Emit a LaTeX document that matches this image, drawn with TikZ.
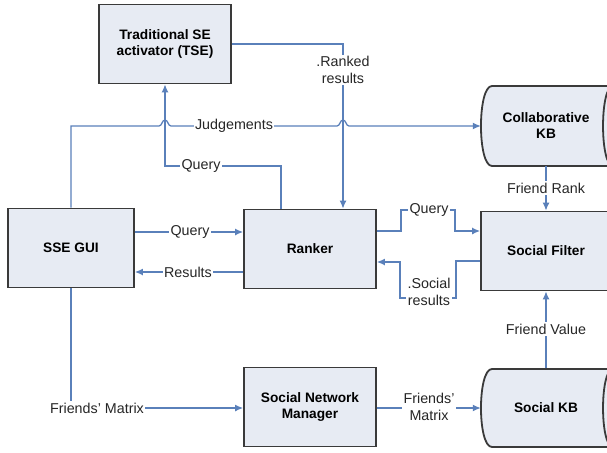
\documentclass[tikz,border=0pt]{standalone}
\usepackage{fontspec}
\setmainfont{Liberation Sans}
\usetikzlibrary{arrows.meta}
\definecolor{conncol}{HTML}{5A80BA}
\definecolor{boxfill}{HTML}{E7EBF3}
\definecolor{boxline}{HTML}{3A3A3A}
\tikzset{
  x=1pt, y=-1pt,
  box/.style={draw=boxline, line width=1.8pt, fill=boxfill, minimum width=132pt, minimum height=79pt, inner sep=0pt, align=center, font=\fontsize{13.7}{16}\selectfont\bfseries},
  dbtext/.style={minimum width=130pt, minimum height=79pt, inner sep=0pt, align=center, font=\fontsize{13.7}{16}\selectfont\bfseries},
  dbshape/.style={draw=boxline, line width=1.8pt, fill=boxfill},
  conn/.style={draw=conncol, line width=1.3pt},
  arr/.style={conn, -{Latex[length=8pt,width=7pt]}},
  lbl/.style={fill=white, inner sep=1.5pt, align=center, font=\fontsize{14.3}{16}\selectfont, text=black!85}
}
\begin{document}
\begin{tikzpicture}
\useasboundingbox (0,0) rectangle (607,452);
\clip (0,0) rectangle (607,452);
\fill[white] (0,0) rectangle (607,452);

% boxes
\node[box] (tse) at (165,44) {Traditional SE\\activator (TSE)};
\node[box, minimum width=126pt] (sse) at (71,248) {SSE GUI};
\node[box] (ranker) at (310,249) {Ranker};
\node[box, minimum width=130pt] (sf) at (546,251) {Social Filter};
\node[box] (snm) at (310,407) {Social Network\\Manager};

% database shapes
\draw[dbshape] (492,86) -- (625,86) -- (625,166) -- (492,166) .. controls (477.3,166) and (477.3,86) .. (492,86) -- cycle;
\draw[boxline, line width=1.8pt] (613,86) .. controls (599.7,86) and (599.7,166) .. (613,166);
\node[dbtext] (collab) at (546,126) {Collaborative\\KB};

\draw[dbshape] (492,369) -- (625,369) -- (625,447) -- (492,447) .. controls (477.3,447) and (477.3,369) .. (492,369) -- cycle;
\draw[boxline, line width=1.8pt] (613,369) .. controls (599.7,369) and (599.7,447) .. (613,447);
\node[dbtext] (skb) at (546,408) {Social KB};

% Judgements (with line jumps)
\draw[arr] (sse.north) -- (71,126) -- (159,126) .. controls (162,126) and (162,120) .. (165,120) .. controls (168,120) and (168,126) .. (171,126)
  -- (337,126) .. controls (340,126) and (340,120) .. (343,120) .. controls (346,120) and (346,126) .. (349,126) -- (collab.west);
\node[lbl] (jl) at (234,126) {Judgements};

% Query to TSE
\draw[arr] ([xshift=-29pt]ranker.north) -- (281,166) -- (165,166) -- (tse.south);
\node[lbl] (ql1) at (201,166) {Query};

% Ranked results
\draw[arr] (tse.east) -- (343,44) -- ([xshift=33pt]ranker.north);
\node[lbl, font=\fontsize{14.3}{17}\selectfont] (rl) at (343,70) {.Ranked\\results};

% SSE <-> Ranker
\draw[arr] ([yshift=16pt]sse.east) -- ([yshift=17pt]ranker.west);
\node[lbl] (ql2) at (190,232) {Query};
\draw[arr] ([yshift=-23pt]ranker.west) -- ([yshift=-24pt]sse.east);
\node[lbl] (rsl) at (188,272) {Results};

% Ranker <-> Social Filter
\draw[arr] ([yshift=18pt]ranker.east) -- (401,231) -- (401,210) -- (455,210) -- (455,231) -- ([yshift=20pt]sf.west);
\node[lbl] (ql3) at (429,210) {Query};
\draw[arr] ([yshift=-10pt]sf.west) -- (456,261) -- (456,298) -- (400,298) -- (400,262) -- ([yshift=-13pt]ranker.east);
\node[lbl, font=\fontsize{14.3}{17}\selectfont] (srl) at (429,292) {.Social\\results};

% Friend Rank / Friend Value
\draw[arr] (collab.south) -- (sf.north);
\node[lbl] (frl) at (546,188) {Friend Rank};
\draw[arr] (skb.north) -- (sf.south);
\node[lbl] (fvl) at (546,329) {Friend Value};

% Friends' Matrix
\draw[arr] (sse.south) -- (71,408) -- (snm.west |- 0,408);
\node[lbl] (fm1) at (97,408) {Friends' Matrix};
\draw[arr] (snm.east |- 0,408) -- (skb.west);
\node[lbl, font=\fontsize{14.3}{17}\selectfont] (fm2) at (429,407) {Friends'\\Matrix};
\end{tikzpicture}
\end{document}
